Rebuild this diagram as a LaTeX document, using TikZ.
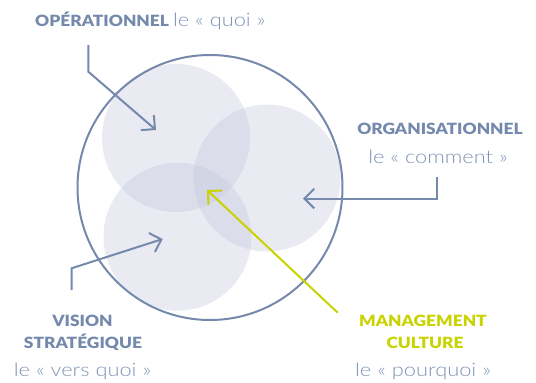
\documentclass[tikz,border=0pt]{standalone}
\usepackage{fontspec}
\setmainfont{Lato}
\newfontfamily\lightf[FakeStretch=1.18]{Lato Light}
\newfontfamily\heavyf[FakeStretch=1.12]{Lato Black}
\usetikzlibrary{arrows.meta}
\definecolor{slate}{HTML}{7489AC}
\definecolor{slatetxt}{HTML}{8093B5}
\definecolor{lime}{HTML}{C8D300}
\definecolor{lav}{HTML}{C4C8DE}
\tikzset{
  blob/.style={fill=lav, fill opacity=0.38, draw=none},
  ring/.style={draw=slate, line width=2pt},
  pointer/.style={draw=slate, line width=2pt, -{Straight Barb[angle=90:14pt]}},
  limepointer/.style={draw=lime, line width=2pt, -{Straight Barb[angle=90:14pt]}},
  head/.style={font=\fontsize{15.5}{18}\heavyf, text=slate, inner sep=0pt, anchor=base},
  headlime/.style={font=\fontsize{15.5}{18}\heavyf, text=lime, inner sep=0pt, anchor=base},
  sub/.style={font=\fontsize{18.5}{20}\lightf, text=slatetxt, inner sep=0pt, anchor=base},
}
\begin{document}
\begin{tikzpicture}[x=1pt,y=-1pt]
\useasboundingbox (0,0) rectangle (536,383);
% overlapping circles
\fill[blob] (176,138) circle (74);
\fill[blob] (267,178) circle (73.5);
\fill[blob] (177.5,236.7) circle (74);
\node[ring, circle, minimum size=265pt, inner sep=0pt] (big) at (210,187.5) {};
% labels
\node[head, anchor=base west] (op) at (35,26) {OPÉRATIONNEL \fontsize{18.5}{20}\lightf\color{slatetxt}le « quoi »};
\node[head] (org) at (440,134) {ORGANISATIONNEL};
\node[sub] (orgs) at (438,163) {le « comment »};
\node[head] (vis1) at (82.5,326) {VISION};
\node[head] (vis2) at (83,348) {STRATÉGIQUE};
\node[sub] (viss) at (82.5,376) {le « vers quoi »};
\node[headlime] (man1) at (423,326) {MANAGEMENT};
\node[headlime] (man2) at (425,348) {CULTURE};
\node[sub] (mans) at (423,376) {le « pourquoi »};
% arrow ends
\coordinate (opA) at (88.3,45);
\coordinate (opB) at (88.3,71.7);
\coordinate (opT) at (156,130);
\coordinate (orA) at (436.7,177);
\coordinate (orB) at (436.7,198.5);
\coordinate (orT) at (303,198.5);
\coordinate (viA) at (71.5,290);
\coordinate (viB) at (71.5,268.3);
\coordinate (viT) at (162.7,239);
\coordinate (maA) at (337.7,312.7);
\coordinate (maT) at (207,190);
\draw[pointer] (opA) -- (opB) -- (opT);
\draw[pointer] (orA) -- (orB) -- (orT);
\draw[pointer] (viA) -- (viB) -- (viT);
\draw[limepointer] (maA) -- (maT);
\end{tikzpicture}
\end{document}
